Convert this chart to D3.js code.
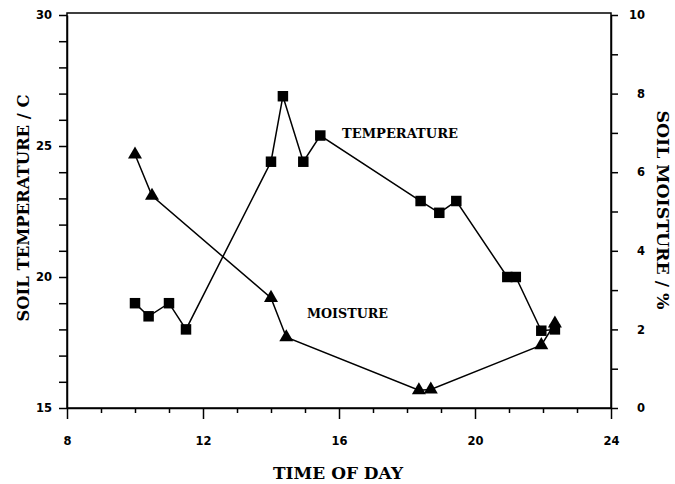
<!DOCTYPE html>
<html>
<head>
<meta charset="utf-8">
<script src="https://cdn.jsdelivr.net/npm/d3@7"></script>
<style>
	body { margin: 0; background: #fff; }
	.title { font-family: 'DejaVu Serif', serif; font-weight: bold; fill: #000; }
</style>
</head>
<body>
<svg width="675" height="484"></svg>
<script>
// soil temperature (squares)
let tempTime = [10, 10.4, 11, 11.5, 14, 14.35, 14.95, 15.45, 18.4, 18.95, 19.45, 20.95, 21.2, 21.95, 22.35];
let tempValues = [19, 18.5, 19, 18, 24.4, 26.9, 24.4, 25.4, 22.9, 22.45, 22.9, 20, 20, 17.95, 18];

// soil moisture (triangles)
let moistTime = [10, 10.5, 14, 14.45, 18.35, 18.7, 21.95, 22.35];
let moistValues = [6.45, 5.4, 2.8, 1.8, 0.45, 0.47, 1.6, 2.15];

let xTickLabels = [8, 12, 16, 20, 24];
let tempTickLabels = [15, 20, 25, 30];
let moistTickLabels = [0, 2, 4, 6, 8, 10];

let svg = d3.select('svg');

let mLeft = 67, mRight = 611, mTop = 15, mBottom = 408;

let x = d3.scaleLinear().domain([8, 24]).range([mLeft, mRight]);
let yTemp = d3.scaleLinear().domain([15, 30]).range([mBottom, mTop]);
let yMoist = d3.scaleLinear().domain([0, 10]).range([mBottom, mTop]);

// frame
svg.append('rect')
	.attr('x', mLeft)
	.attr('y', mTop - 2)
	.attr('width', mRight - mLeft)
	.attr('height', mBottom - mTop + 2)
	.attr('fill', 'none')
	.attr('stroke', '#000')
	.attr('stroke-width', 1.5);

// bottom axis, minor tick every hour
let xAxis = d3.axisBottom(x)
	.tickValues(d3.range(8, 25))
	.tickFormat(d => xTickLabels.includes(d) ? d : '')
	.tickSize(10)
	.tickSizeOuter(0)
	.tickPadding(19);

let gx = svg.append('g')
	.attr('transform', 'translate(0,' + mBottom + ')')
	.call(xAxis);
gx.selectAll('.tick line')
	.attr('y2', d => xTickLabels.includes(d) ? 11 : 5);

// left axis
let yAxisL = d3.axisLeft(yTemp)
	.tickValues(d3.range(15, 31))
	.tickFormat(d => tempTickLabels.includes(d) ? d : '')
	.tickSize(8)
	.tickSizeOuter(0)
	.tickPadding(7);

let gl = svg.append('g')
	.attr('transform', 'translate(' + mLeft + ',0)')
	.call(yAxisL);

// right axis
let yAxisR = d3.axisRight(yMoist)
	.tickValues(d3.range(0, 11))
	.tickFormat(d => moistTickLabels.includes(d) ? d : '')
	.tickSize(7)
	.tickSizeOuter(0);

let gr = svg.append('g')
	.attr('transform', 'translate(' + mRight + ',0)')
	.call(yAxisR);
gr.selectAll('.tick text')
	.attr('text-anchor', 'end')
	.attr('x', 34);

// axis fonts set on the axis groups (replaces d3 defaults)
[gx, gl, gr].forEach(g => g
	.attr('font-family', 'DejaVu Sans, sans-serif')
	.attr('font-weight', 'bold')
	.attr('font-size', 11.5));

svg.selectAll('.domain, .tick line')
	.attr('stroke', '#000')
	.attr('stroke-width', 1.5);

// series lines
let tempData = tempTime.map((t, i) => ({ t: t, v: tempValues[i] }));
let moistData = moistTime.map((t, i) => ({ t: t, v: moistValues[i] }));

svg.append('path')
	.datum(tempData)
	.attr('fill', 'none')
	.attr('stroke', '#000')
	.attr('stroke-width', 1.5)
	.attr('d', d3.line().x(d => x(d.t)).y(d => yTemp(d.v)));

svg.append('path')
	.datum(moistData)
	.attr('fill', 'none')
	.attr('stroke', '#000')
	.attr('stroke-width', 1.5)
	.attr('d', d3.line().x(d => x(d.t)).y(d => yMoist(d.v)));

svg.selectAll('.sq')
	.data(tempData)
	.enter()
	.append('path')
	.attr('class', 'sq')
	.attr('transform', d => 'translate(' + x(d.t) + ',' + yTemp(d.v) + ')')
	.attr('d', d3.symbol(d3.symbolSquare, 110))
	.attr('fill', '#000');

svg.selectAll('.tri')
	.data(moistData)
	.enter()
	.append('path')
	.attr('class', 'tri')
	.attr('transform', d => 'translate(' + x(d.t) + ',' + yMoist(d.v) + ')')
	.attr('d', d3.symbol(d3.symbolTriangle, 85))
	.attr('fill', '#000');

// titles
svg.append('text')
	.attr('class', 'title')
	.attr('x', 338)
	.attr('y', 479)
	.attr('text-anchor', 'middle')
	.attr('textLength', 130)
	.attr('lengthAdjust', 'spacingAndGlyphs')
	.style('font-size', '17px')
	.text('TIME OF DAY');

svg.append('text')
	.attr('class', 'title')
	.attr('transform', 'translate(29,208) rotate(-90)')
	.attr('text-anchor', 'middle')
	.attr('textLength', 227)
	.attr('lengthAdjust', 'spacingAndGlyphs')
	.style('font-size', '16.5px')
	.text('SOIL TEMPERATURE / C');

svg.append('text')
	.attr('class', 'title')
	.attr('transform', 'translate(657,210) rotate(90)')
	.attr('text-anchor', 'middle')
	.attr('textLength', 199)
	.attr('lengthAdjust', 'spacingAndGlyphs')
	.style('font-size', '16.5px')
	.text('SOIL MOISTURE / %');

svg.append('text')
	.attr('class', 'title')
	.attr('x', 342)
	.attr('y', 138)
	.attr('textLength', 116)
	.attr('lengthAdjust', 'spacingAndGlyphs')
	.style('font-size', '13px')
	.text('TEMPERATURE');

svg.append('text')
	.attr('class', 'title')
	.attr('x', 307)
	.attr('y', 318)
	.attr('textLength', 81)
	.attr('lengthAdjust', 'spacingAndGlyphs')
	.style('font-size', '13px')
	.text('MOISTURE');
</script>
</body>
</html>
